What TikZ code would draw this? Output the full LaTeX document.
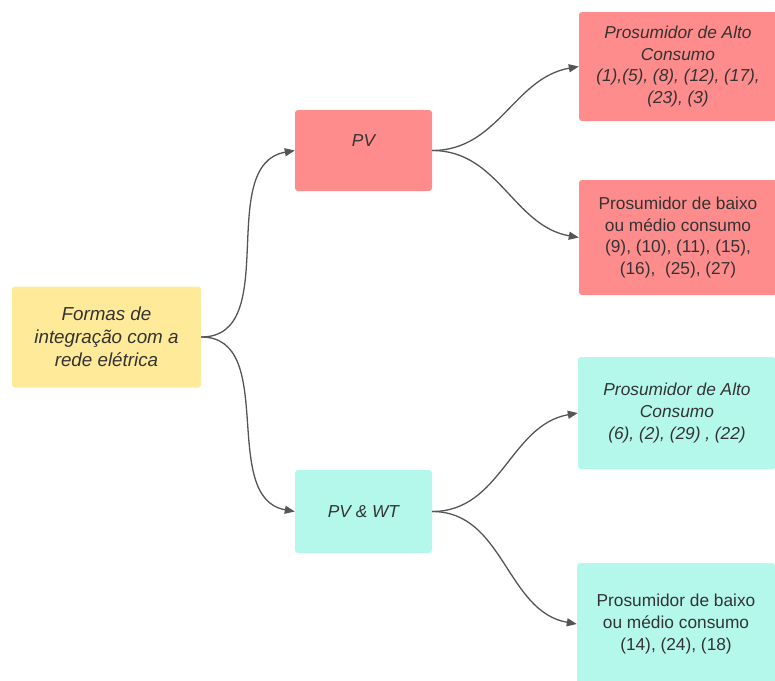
\documentclass[tikz,border=0pt]{standalone}
\usepackage{fontspec}
\setmainfont{Liberation Sans}
\usetikzlibrary{arrows.meta}
\definecolor{boxred}{RGB}{255,140,140}
\definecolor{boxcyan}{RGB}{180,248,236}
\definecolor{boxyellow}{RGB}{255,234,153}
\definecolor{txtgray}{RGB}{51,51,51}
\definecolor{wire}{RGB}{85,85,85}

\begin{document}
\begin{tikzpicture}[x=1pt, y=-1pt,
    box/.style={rounded corners=3pt, align=center, text=txtgray, inner sep=2pt, font=\fontsize{17.3}{21.7}\selectfont},
    redbox/.style={box, fill=boxred},
    cyanbox/.style={box, fill=boxcyan},
    mid/.style={minimum width=137pt, font=\itshape\fontsize{17.3}{21.7}\selectfont},
    leaf/.style={minimum width=198pt},
    arr/.style={-{Triangle[length=10pt,width=8pt]}, wire, line width=1.3pt}
]
\useasboundingbox (0,0) rectangle (775,680);

\node[box, fill=boxyellow, minimum width=189pt, minimum height=101pt, font=\itshape\fontsize{18.8}{22.8}\selectfont] (forms) at (106.5,337) {Formas de\\integração com a\\rede elétrica};

\node[redbox, mid, minimum height=81pt, text depth=20pt] (pv) at (363.5,150.5) {PV};
\node[cyanbox, mid, minimum height=83pt] (pvwt) at (363.5,511.5) {PV \& WT};

\node[redbox, leaf, minimum height=109pt, font=\itshape\fontsize{17.3}{21.7}\selectfont] (pvalto) at (678,66.5) {Prosumidor de Alto\\Consumo\\(1),(5), (8), (12), (17),\\(23), (3)};
\node[redbox, leaf, minimum height=115pt] (pvbaixo) at (678,237.5) {Prosumidor de baixo\\ou médio consumo\\(9), (10), (11), (15),\\(16),\ \ (25), (27)};
\node[cyanbox, leaf, minimum height=112pt, font=\itshape\fontsize{17.3}{21.7}\selectfont] (wtalto) at (677,413) {Prosumidor de Alto\\Consumo\\(6), (2), (29) , (22)};
\node[cyanbox, leaf, minimum height=122pt] (wtbaixo) at (676,624) {Prosumidor de baixo\\ou médio consumo\\(14), (24), (18)};

\draw[arr] (forms.east) to[out=0, in=190] (pv.west);
\draw[arr] (forms.east) to[out=0, in=170] (pvwt.west);
\draw[arr] (pv.east) to[out=0, in=190] (pvalto.west);
\draw[arr] (pv.east) to[out=0, in=170] (pvbaixo.west);
\draw[arr] (pvwt.east) to[out=0, in=190] (wtalto.west);
\draw[arr] (pvwt.east) to[out=0, in=170] (wtbaixo.west);
\end{tikzpicture}
\end{document}
